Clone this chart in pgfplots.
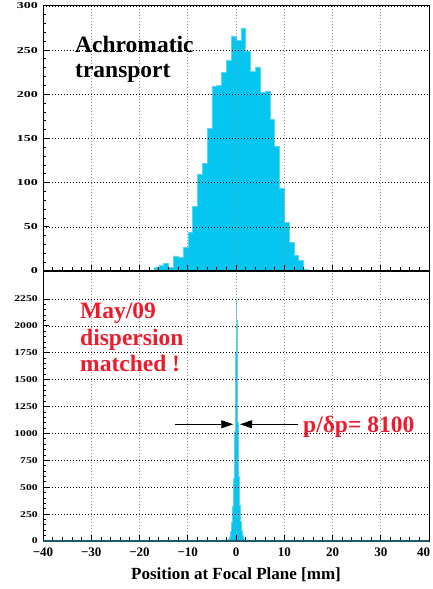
\documentclass[border=0pt]{standalone}
\usepackage{fontspec}
\setmainfont{Liberation Serif}
\usepackage{pgfplots}
\pgfplotsset{compat=1.18}
\usetikzlibrary{arrows.meta}

\definecolor{histfill}{RGB}{5,198,240}
\definecolor{histline}{RGB}{90,215,245}
\definecolor{annred}{RGB}{236,28,44}
\definecolor{axteal}{RGB}{30,90,105}

\pgfplotsset{
  rootframe/.style={
    scale only axis, width=386pt,
    xmin=-40, xmax=40,
    axis on top,
    tick align=inside, tick pos=left,
    xtick={-40,-30,...,40}, minor x tick num=4,
    minor y tick num=4,
    grid=major,
    major x grid style={gray!80, dash pattern=on 1pt off 2pt, line width=0.6pt},
    major y grid style={black, dash pattern=on 1pt off 2pt, line width=0.6pt},
    major tick length=6pt, minor tick length=3.5pt,
    every tick/.style={black, line width=0.8pt},
    axis line style={line width=0.8pt},
    scaled ticks=false,
    /pgf/number format/assume math mode=true,
    /pgf/number format/1000 sep={},
  }
}

\begin{document}
\begin{tikzpicture}
\useasboundingbox (0pt,0pt) rectangle (433pt,589pt);

% upper pad: achromatic transport
\begin{axis}[rootframe,
    at={(43pt,318pt)}, anchor=south west,
    height=266pt,
    ymin=0, ymax=301,
    ytick={0,50,...,300},
    xticklabel={\mbox{}},
    yticklabel={\scalebox{1}[0.65]{\pgfmathprintnumber{\tick}}},
    yticklabel style={font=\bfseries\fontsize{14}{14}\selectfont, anchor=east, inner sep=0pt, xshift=-5pt},
  ]
  \addplot[const plot, fill=histfill, draw=histline, line width=0.5pt] coordinates {
    (-40,0) (-33,1) (-32,0) (-22,1) (-21,0) (-18,1) (-17,4) (-16,7) (-15,9)
    (-14,4) (-13,17) (-12,15) (-11,27) (-10,44) (-9,73) (-8,110) (-7,122)
    (-6,161) (-5,209) (-4,210) (-3,225) (-2,238) (-1,266) (0,261) (1,275)
    (2,249) (3,226) (4,231) (5,202) (6,203) (7,172) (8,141) (9,94) (10,55)
    (11,32) (12,18) (13,12) (14,2) (15,1) (16,1) (17,0) (40,0)
  } \closedcycle;
\end{axis}

% lower pad: dispersion matched
\begin{axis}[rootframe,
    at={(43pt,48pt)}, anchor=south west,
    height=270pt,
    ymin=0, ymax=2510,
    ytick={0,250,...,2250},
    xticklabels={−40,−30,−20,−10,0,10,20,30,\makebox[2pt][r]{40}},
    xticklabel style={font=\bfseries\fontsize{13}{13}\selectfont, anchor=north, inner sep=0pt, yshift=-6.5pt},
    yticklabel={\scalebox{1}[0.76]{\pgfmathprintnumber{\tick}}},
    yticklabel style={font=\bfseries\fontsize{11.7}{12}\selectfont, anchor=east, inner sep=0pt, xshift=-5pt},
    xlabel={Position at Focal Plane [mm]},
    xlabel style={font=\bfseries\fontsize{17}{17}\selectfont, at={(axis description cs:0.5,0)}, anchor=base, yshift=-39pt, inner sep=0pt},
  ]
  \addplot[const plot, fill=histfill, draw=histline, line width=0.4pt] coordinates {
    (-40,0) (-6,2) (-5,5) (-4,7) (-3,9) (-2.5,10)
    (-2.0,6) (-1.9,8) (-1.8,10) (-1.7,14) (-1.6,18) (-1.5,25) (-1.4,35)
    (-1.3,50) (-1.2,70) (-1.1,95) (-1.0,130) (-0.9,175) (-0.8,240)
    (-0.7,320) (-0.6,430) (-0.5,580) (-0.4,780) (-0.3,1020) (-0.2,1380)
    (-0.1,1750) (0.0,2250) (0.1,2050) (0.2,1450) (0.3,1100) (0.4,820)
    (0.5,600) (0.6,450) (0.7,330) (0.8,250) (0.9,185) (1.0,135) (1.1,100)
    (1.2,70) (1.3,50) (1.4,35) (1.5,25) (1.6,18) (1.7,12) (1.8,8) (1.9,6)
    (2.0,4) (2.1,3) (3.0,1) (4.0,0) (40,0)
  } \closedcycle;
  \coordinate (la) at (axis cs:-12.64,1085);
  \coordinate (lb) at (axis cs:-0.56,1085);
  \coordinate (ra) at (axis cs:12.79,1085);
  \coordinate (rb) at (axis cs:0.83,1085);
\end{axis}

% pad boundaries
\draw[line width=1.3pt] (43pt,318pt) -- (429pt,318pt);
\draw[line width=1.1pt, axteal] (43pt,48pt) -- (429pt,48pt);

% annotations
\begin{scope}[every node/.style={inner sep=0pt, font=\bfseries\fontsize{23.5}{25}\selectfont}]
  \node[anchor=base west] at (75pt,536pt) {Achromatic};
  \node[anchor=base west] at (75pt,511pt) {transport};
  \node[anchor=base west, text=annred] at (80pt,270pt) {May/09};
  \node[anchor=base west, text=annred] at (80pt,243.5pt) {dispersion};
  \node[anchor=base west, text=annred] at (80pt,217pt) {matched !};
  \node[anchor=base west, text=annred] at (303pt,156pt) {p/δp= 8100};
\end{scope}
\draw[line width=0.8pt, -{Triangle[length=12pt, width=8pt]}] (la) -- (lb);
\draw[line width=0.8pt, -{Triangle[length=12pt, width=8pt]}] (ra) -- (rb);
\end{tikzpicture}
\end{document}
